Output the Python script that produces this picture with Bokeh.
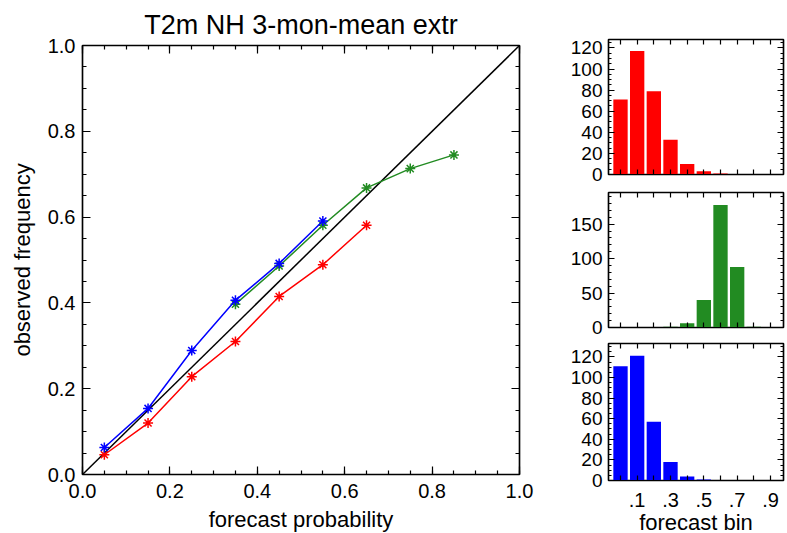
from bokeh.plotting import figure
from bokeh.layouts import row, column
from bokeh.models import LinearAxis, FixedTicker, PrintfTickFormatter, CustomJSTickFormatter, Range1d
from bokeh.embed import file_html
from bokeh.resources import INLINE

# ---------------- data ----------------
title_text = "T2m NH 3-mon-mean extr"
diag = [0.0, 1.0]

red_x = [0.05, 0.15, 0.25, 0.35, 0.45, 0.55, 0.65]
red_y = [0.046, 0.120, 0.228, 0.310, 0.415, 0.489, 0.581]

green_x = [0.35, 0.45, 0.55, 0.65, 0.75, 0.85]
green_y = [0.397, 0.486, 0.581, 0.668, 0.713, 0.745]

blue_x = [0.05, 0.15, 0.25, 0.35, 0.45, 0.55]
blue_y = [0.063, 0.154, 0.289, 0.406, 0.492, 0.591]

bins = [0, 1, 2, 3, 4, 5, 6, 7, 8, 9]
bin_label_pos = [1, 3, 5, 7, 9]
bin_labels = [".1", ".3", ".5", ".7", ".9"]
red_counts = [71, 117, 79, 33, 10, 3, 1, 0, 0, 0]
green_counts = [0, 0, 0, 1, 6, 40, 178, 88, 1, 0]
blue_counts = [111, 121, 57, 18, 4, 1, 0, 0, 0, 0]

RED = "#ff0000"
GREEN = "#228b22"
BLUE = "#0000ff"
FONT = "Liberation Sans"


def style_axis(ax, ticker, size, standoff, major_in, minor_in, labels=True):
    ax.ticker = ticker
    ax.major_tick_in = major_in
    ax.major_tick_out = 0
    ax.minor_tick_in = minor_in
    ax.minor_tick_out = 0
    ax.major_tick_line_color = "black"
    ax.minor_tick_line_color = "black"
    ax.major_tick_line_width = 1.2
    ax.minor_tick_line_width = 1.2
    ax.axis_line_color = "black"
    ax.axis_line_width = 1.2
    if labels:
        ax.major_label_text_font = FONT
        ax.major_label_text_font_size = size
        ax.major_label_text_color = "black"
        ax.major_label_standoff = standoff
    else:
        ax.formatter = CustomJSTickFormatter(code="return ''")
        ax.major_label_text_font_size = "0px"
        ax.major_label_standoff = 0


def style_label(ax, text, standoff):
    ax.axis_label = text
    ax.axis_label_text_font = FONT
    ax.axis_label_text_font_size = "22px"
    ax.axis_label_text_font_style = "normal"
    ax.axis_label_text_color = "black"
    ax.axis_label_standoff = standoff


# ---------------- main reliability plot ----------------
p = figure(frame_width=437, frame_height=429, x_range=Range1d(0, 1), y_range=Range1d(0, 1),
           output_backend="svg", toolbar_location=None,
           min_border_left=82, min_border_right=21, min_border_top=45, min_border_bottom=59)
p.grid.visible = False
p.outline_line_color = "black"
p.outline_line_width = 1.5
p.title.text = title_text
p.title.text_font = FONT
p.title.text_font_size = "27px"
p.title.text_font_style = "normal"
p.title.text_color = "black"
p.title.align = "center"
p.title.standoff = 12

main_ticker = FixedTicker(ticks=[0.0, 0.2, 0.4, 0.6, 0.8, 1.0],
                          minor_ticks=[i * 0.05 for i in range(21)])
for ax in (p.xaxis[0], p.yaxis[0]):
    style_axis(ax, main_ticker, "20px", 9, 8, 4)
    ax.formatter = PrintfTickFormatter(format="%.1f")
p.yaxis[0].major_label_standoff = 7
style_label(p.xaxis[0], "forecast probability", 6)
style_label(p.yaxis[0], "observed frequency", 10)

top_ax = LinearAxis()
style_axis(top_ax, main_ticker, "0px", 0, 8, 4, labels=False)
p.add_layout(top_ax, "above")
right_ax = LinearAxis()
style_axis(right_ax, main_ticker, "0px", 0, 8, 4, labels=False)
p.add_layout(right_ax, "right")

p.line(diag, diag, line_color="black", line_width=1.5)
for xs, ys, c in ((red_x, red_y, RED), (green_x, green_y, GREEN), (blue_x, blue_y, BLUE)):
    p.line(xs, ys, line_color=c, line_width=1.5)
    p.scatter(xs, ys, marker="asterisk", size=10, line_color=c, line_width=1.5)


# ---------------- histograms ----------------
def hist(counts, color, ymax, yticks, yminor, top, bottom, fh, show_x):
    h = figure(frame_width=175, frame_height=fh,
               x_range=Range1d(-0.72, 9.78), y_range=Range1d(0, ymax),
               output_backend="svg", toolbar_location=None,
               min_border_left=68, min_border_right=4,
               min_border_top=top, min_border_bottom=bottom)
    h.grid.visible = False
    h.outline_line_color = "black"
    h.outline_line_width = 1.5
    h.vbar(x=bins, top=counts, width=0.86, fill_color=color, line_color=None)
    xt = FixedTicker(ticks=bin_label_pos, minor_ticks=[b for b in bins if b not in bin_label_pos])
    yt = FixedTicker(ticks=yticks, minor_ticks=yminor)
    style_axis(h.yaxis[0], yt, "19px", 6, 6, 3)
    if show_x:
        style_axis(h.xaxis[0], xt, "20px", 12, 5, 5)
        h.xaxis[0].major_label_overrides = {k: v for k, v in zip(bin_label_pos, bin_labels)}
        style_label(h.xaxis[0], "forecast bin", 0)
    else:
        style_axis(h.xaxis[0], xt, "0px", 0, 5, 5, labels=False)
    ta = LinearAxis()
    style_axis(ta, xt, "0px", 0, 5, 5, labels=False)
    h.add_layout(ta, "above")
    ra = LinearAxis()
    style_axis(ra, yt, "0px", 0, 6, 3, labels=False)
    h.add_layout(ra, "right")
    return h


h1 = hist(red_counts, RED, 128, [0, 20, 40, 60, 80, 100, 120], list(range(0, 129, 5)), 39, 11, 135, False)
h2 = hist(green_counts, GREEN, 196, [0, 50, 100, 150], list(range(0, 197, 10)), 7, 11, 135, False)
h3 = hist(blue_counts, BLUE, 133, [0, 20, 40, 60, 80, 100, 120], list(range(0, 134, 5)), 5, 45, 137, True)

layout = row(p, column(h1, h2, h3, spacing=0), spacing=0)
open("out.html", "w").write(file_html(layout, INLINE))
